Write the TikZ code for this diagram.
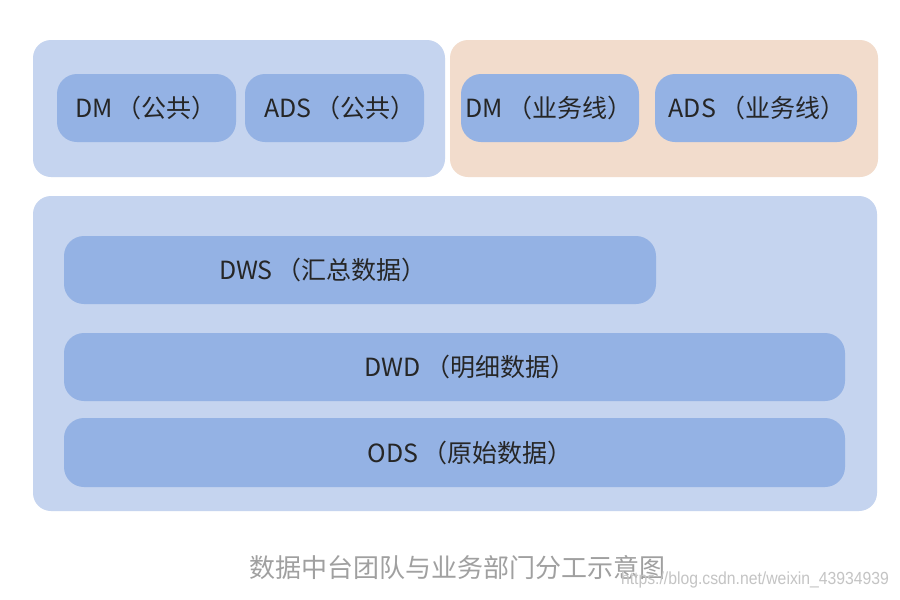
\documentclass[tikz,border=0pt]{standalone}
\usepackage{fontspec}
\setmainfont{Noto Sans CJK SC}
\newfontfamily\wmfont{Liberation Sans}
\definecolor{panelblue}{HTML}{C5D4EF}
\definecolor{panelpeach}{HTML}{F2DCCC}
\definecolor{boxblue}{HTML}{94B2E4}
\definecolor{capgray}{HTML}{A0A0A0}
\definecolor{wmgray}{HTML}{C4C4C4}
\tikzset{
  panel/.style={rounded corners=18pt},
  layerbox/.style={fill=boxblue, rounded corners=20pt},
  lbl/.style={font=\fontsize{25}{27}\selectfont, text=black!85, inner sep=0pt}
}
\begin{document}
\begin{tikzpicture}[x=1pt,y=-1pt]
\useasboundingbox[fill=white] (0,0) rectangle (900,600);
% panels
\fill[panelblue, panel] (33,40) rectangle (445,177);
\fill[panelpeach, panel] (450,40) rectangle (878,177);
\fill[panelblue, panel] (33,196) rectangle (877,511);
% top boxes
\fill[layerbox] (57,74) rectangle (236,142);
\node[lbl] (dmp) at (146,108) {DM\,（公共）};
\fill[layerbox] (245,74) rectangle (424,142);
\node[lbl] (adsp) at (340,108) {ADS\,（公共）};
\fill[layerbox] (461,74) rectangle (639,142);
\node[lbl] (dmb) at (549,108) {DM\,（业务线）};
\fill[layerbox] (655,74) rectangle (857,142);
\node[lbl] (adsb) at (757,108) {ADS\,（业务线）};
% layers
\fill[layerbox] (64,236) rectangle (656,304);
\node[lbl] (dws) at (323,270) {DWS\,（汇总数据）};
\fill[layerbox] (64,333) rectangle (845,401);
\node[lbl] (dwd) at (470,367) {DWD\,（明细数据）};
\fill[layerbox] (64,418) rectangle (845,487);
\node[lbl] (ods) at (470,453) {ODS\,（原始数据）};
% caption
\node[font=\fontsize{26}{28}\selectfont, text=capgray, inner sep=0pt] (cap) at (457,568) {数据中台团队与业务部门分工示意图};
\node[font=\wmfont\fontsize{17.5}{18}\selectfont, text=wmgray, inner sep=0pt, xscale=0.9] (wm) at (755,580) {https://blog.csdn.net/weixin\_43934939};
\end{tikzpicture}
\end{document}
